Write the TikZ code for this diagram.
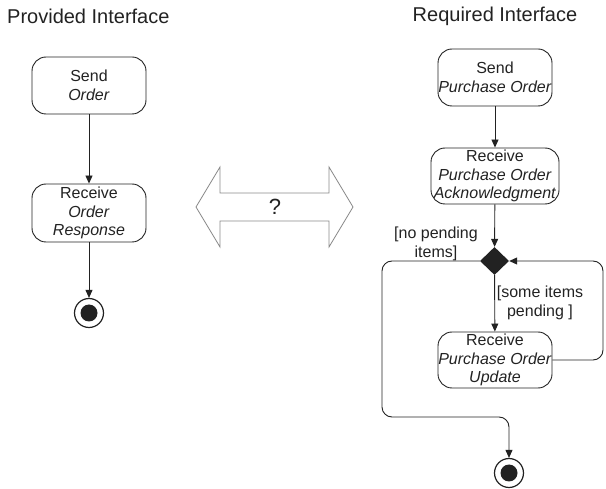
\documentclass[tikz,border=0pt]{standalone}
\usepackage{fontspec}
\setmainfont{Liberation Sans}
\usetikzlibrary{arrows.meta,shapes.geometric}
\definecolor{ink}{HTML}{222222}
\definecolor{hollow}{HTML}{8A8A8A}
\begin{document}
\begin{tikzpicture}[x=1pt,y=-1pt,
  every node/.style={text=ink},
  act/.style={draw=ink,line width=0.9pt,rounded corners=14pt,minimum height=57pt,inner sep=0pt,align=center,font=\fontsize{16}{18.5}\selectfont},
  ttl/.style={font=\fontsize{20}{23}\selectfont,inner sep=0pt},
  lbl/.style={font=\fontsize{16}{18.5}\selectfont,align=center,inner sep=0pt},
  flow/.style={draw=ink,line width=0.9pt,-{Triangle[length=8pt,width=7pt]}},
  finalring/.style={circle,draw=ink,line width=1.2pt,minimum size=29pt,inner sep=0pt},
  finaldot/.style={circle,fill=ink,minimum size=17pt,inner sep=0pt},
]
\useasboundingbox (0,0) rectangle (606,489);

% titles
\node[ttl,anchor=west] (tl) at (7,16) {Provided Interface};
\node[ttl] (tr) at (495,16) {Required Interface};

% left side
\node[act,minimum width=114pt] (sendo) at (89,85.5) {Send\\\textit{Order}};
\node[act,minimum width=114pt,minimum height=58pt] (recvo) at (89,213) {Receive\\\textit{Order}\\\textit{Response}};
\node[finalring] (fin1) at (89,313) {};
\node[finaldot] (fin1d) at (89,313) {};
\draw[flow] (sendo) -- (recvo);
\draw[flow] (recvo) -- (fin1);

% double arrow
\draw[draw=hollow,line width=0.8pt,fill=white]
  (196,207) -- (220,167) -- (220,193) -- (329,193) -- (329,167) -- (353,207)
  -- (329,247) -- (329,221) -- (220,221) -- (220,247) -- cycle;
\node[lbl,font=\fontsize{22}{24}\selectfont] (q) at (275,207) {?};

% right side
\node[act,minimum width=114pt] (sendpo) at (495,77.5) {Send\\\textit{Purchase Order}};
\node[act,minimum width=128pt,minimum height=56pt] (ack) at (495,176) {Receive\\\textit{Purchase Order}\\\textit{Acknowledgment}};
\node[diamond,fill=ink,minimum width=29pt,minimum height=28pt,inner sep=0pt] (dec) at (494.5,261) {};
\node[act,minimum width=114pt,minimum height=56pt] (upd) at (495,360) {Receive\\\textit{Purchase Order}\\\textit{Update}};
\node[finalring] (fin2) at (509,473) {};
\node[finaldot] (fin2d) at (509,473) {};

\node[lbl] (nop) at (436,244) {[no pending\\items]};
\node[lbl] (some) at (540,303) {[some items\\pending ]};

\coordinate (lc) at (382,417);
\coordinate (rc) at (603,261);

\draw[flow] (sendpo) -- (ack);
\draw[flow] (ack) -- (dec);
\draw[flow] (dec) -- (upd);
\draw[flow,rounded corners=10pt] (dec.west) -| (lc) -| (fin2.north);
\draw[flow,rounded corners=10pt] (upd.east) -| (rc) -- (dec.east);
\end{tikzpicture}
\end{document}
